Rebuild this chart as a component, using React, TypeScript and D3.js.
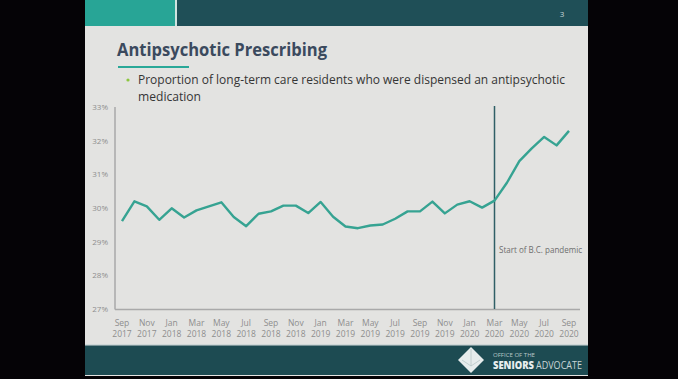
import React from "react";
import * as d3 from "d3";

const months: string[] = [
  "Sep 2017","Oct 2017","Nov 2017","Dec 2017",
  "Jan 2018","Feb 2018","Mar 2018","Apr 2018","May 2018","Jun 2018","Jul 2018","Aug 2018","Sep 2018","Oct 2018","Nov 2018","Dec 2018",
  "Jan 2019","Feb 2019","Mar 2019","Apr 2019","May 2019","Jun 2019","Jul 2019","Aug 2019","Sep 2019","Oct 2019","Nov 2019","Dec 2019",
  "Jan 2020","Feb 2020","Mar 2020","Apr 2020","May 2020","Jun 2020","Jul 2020","Aug 2020","Sep 2020",
];
const values: number[] = [
  29.61, 30.20, 30.05, 29.65,
  29.99, 29.72, 29.93, 30.05, 30.17, 29.73, 29.46, 29.83, 29.90, 30.07, 30.07, 29.85,
  30.18, 29.74, 29.45, 29.40, 29.48, 29.51, 29.68, 29.90, 29.90, 30.19, 29.84, 30.10,
  30.20, 30.01, 30.22, 30.75, 31.39, 31.77, 32.11, 31.86, 32.29,
];
const yTicks: number[] = [27, 28, 29, 30, 31, 32, 33];
const pandemicMonth = "Mar 2020";
const pandemicLabel = "Start of B.C. pandemic";
const title = "Antipsychotic Prescribing";
const bulletLine1 = "Proportion of long-term care residents who were dispensed an antipsychotic";
const bulletLine2 = "medication";

export default function App() {
  const W = 678, H = 379;
  const x = d3.scalePoint<string>().domain(months).range([122, 569]);
  const y = d3.scaleLinear().domain([27, 33]).range([309, 107]);
  const line = d3.line<number>().x((_, i) => x(months[i])!).y(d => y(d)).curve(d3.curveLinear);
  const tickMonths = months.filter((_, i) => i % 2 === 0);
  const font = "'Open Sans', 'Noto Sans', sans-serif";
  const px = x(pandemicMonth)!;
  return (
    <svg width={W} height={H} style={{ position: "absolute", left: 0, top: 0, background: "#000" }}>
      <rect x={0} y={0} width={W} height={H} fill="#050306" />
      {/* slide */}
      <rect x={85} y={0} width={503} height={376} fill="#e3e3e1" />
      <rect x={85} y={0} width={90} height={26} fill="#28a596" />
      <rect x={175} y={0} width={2} height={26} fill="#cfe3e0" />
      <rect x={177} y={0} width={411} height={26} fill="#1f4f57" />
      <text x={562} y={17} fontFamily={font} fontSize={8} fill="#c8d6d8" textAnchor="middle">3</text>
      <text x={117} y={56} fontFamily={font} fontSize={18} fontWeight={700} fill="#3b4a5e" textLength={210} lengthAdjust="spacingAndGlyphs">{title}</text>
      <rect x={118} y={66} width={71} height={2} fill="#2aa898" />
      <circle cx={128} cy={80} r={1.6} fill="#8cc63f" />
      <text x={138} y={84} fontFamily={font} fontSize={12} fill="#353535" textLength={427} lengthAdjust="spacingAndGlyphs">{bulletLine1}</text>
      <text x={138} y={100.5} fontFamily={font} fontSize={12} fill="#353535" textLength={63} lengthAdjust="spacingAndGlyphs">{bulletLine2}</text>

      {/* axes */}
      <line x1={115} x2={115} y1={107} y2={309.5} stroke="#a9a9a9" strokeWidth={1.5} />
      <line x1={115} x2={580} y1={309.5} y2={309.5} stroke="#a9a9a9" strokeWidth={1.5} />
      {yTicks.map(t => (
        <text key={t} x={108} y={y(t) + 3} fontFamily={font} fontSize={8} fill="#8e8e8e" textAnchor="end">{t}%</text>
      ))}
      {tickMonths.map(m => {
        const [mon, yr] = m.split(" ");
        return (
          <g key={m}>
            <text x={x(m)!} y={326} fontFamily={font} fontSize={8.5} fill="#8e8e8e" textAnchor="middle">{mon}</text>
            <text x={x(m)!} y={337} fontFamily={font} fontSize={8.5} fill="#8e8e8e" textAnchor="middle">{yr}</text>
          </g>
        );
      })}

      {/* pandemic marker */}
      <line x1={px} x2={px} y1={106} y2={309} stroke="#2f5f66" strokeWidth={1.5} />
      <text x={499} y={253} fontFamily={font} fontSize={8.5} fill="#6e6e6e" textLength={83} lengthAdjust="spacingAndGlyphs">{pandemicLabel}</text>

      {/* data line */}
      <path d={line(values)!} fill="none" stroke="#36a392" strokeWidth={2.4} strokeLinejoin="round" />

      {/* footer */}
      <rect x={85} y={344} width={503} height={1.5} fill="#cfd8d8" />
      <rect x={85} y={345.5} width={503} height={29.5} fill="#1d4b52" />
      <g>
        <path d="M471,347 L484,360 L471,373 L458,360 Z" fill="#e6ecec" />
        <path d="M471,349 L471,366 M462,360 L471,366 L480,360" stroke="#b8c6c7" strokeWidth={0.8} fill="none" />
      </g>
      <text x={493} y={357} fontFamily={font} fontSize={5.5} fill="#b9c8c9" textLength={42} lengthAdjust="spacingAndGlyphs">OFFICE OF THE</text>
      <text x={493} y={369} fontFamily={font} fontSize={10.5} fontWeight={800} fill="#e8eeee" textLength={41} lengthAdjust="spacingAndGlyphs">SENIORS</text>
      <text x={536} y={369} fontFamily={font} fontSize={10.5} fill="#c9d5d6" textLength={46} lengthAdjust="spacingAndGlyphs">ADVOCATE</text>
    </svg>
  );
}
